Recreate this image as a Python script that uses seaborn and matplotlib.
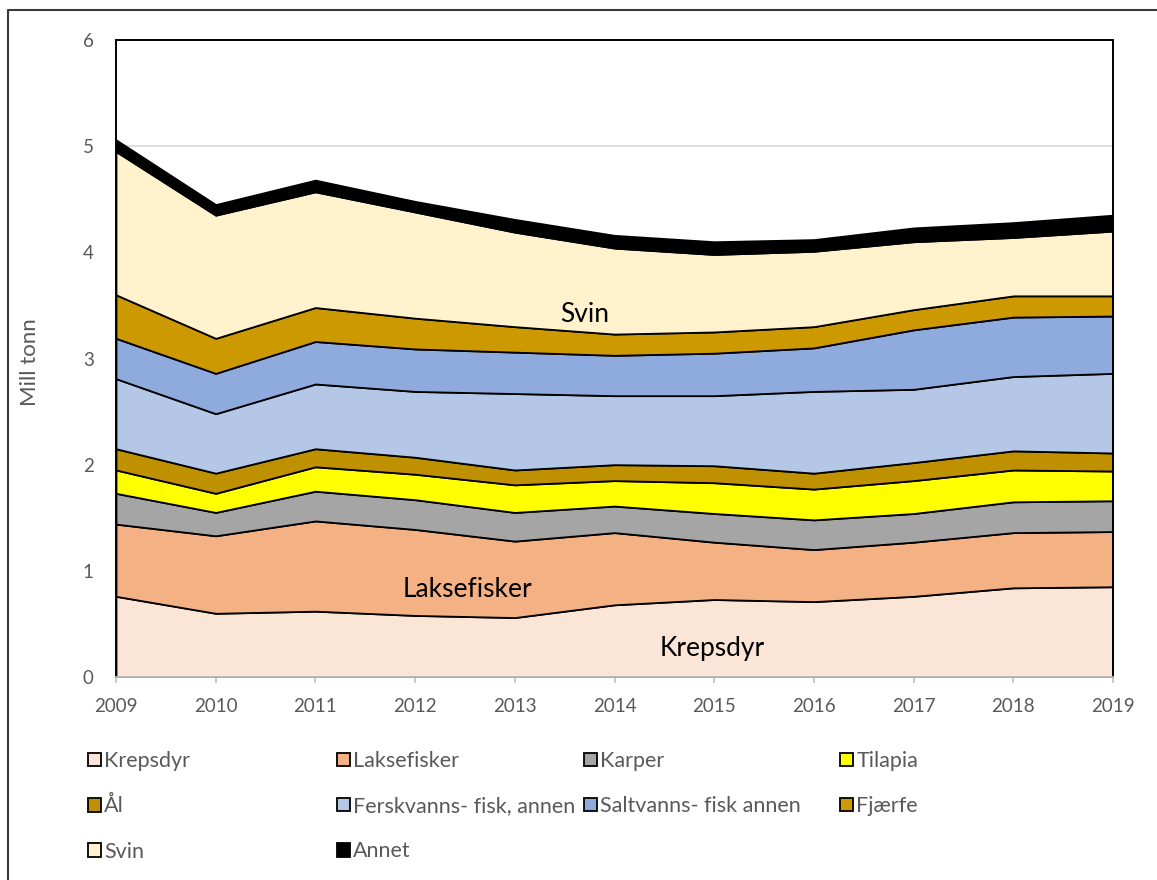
import numpy as np
import pandas as pd
import matplotlib
matplotlib.use("Agg")
import matplotlib.pyplot as plt
import seaborn as sns
from matplotlib.patches import Patch
from matplotlib.lines import Line2D

# ---- data (Mill tonn) ----
years = [2009, 2010, 2011, 2012, 2013, 2014, 2015, 2016, 2017, 2018, 2019]
krepsdyr = [0.76, 0.60, 0.62, 0.58, 0.56, 0.68, 0.73, 0.71, 0.76, 0.84, 0.85]
laksefisker = [0.68, 0.73, 0.85, 0.81, 0.72, 0.68, 0.54, 0.49, 0.51, 0.52, 0.52]
karper = [0.29, 0.22, 0.28, 0.28, 0.27, 0.25, 0.27, 0.28, 0.27, 0.29, 0.29]
tilapia = [0.22, 0.18, 0.23, 0.24, 0.26, 0.24, 0.29, 0.29, 0.31, 0.30, 0.28]
aal = [0.20, 0.19, 0.17, 0.16, 0.14, 0.15, 0.16, 0.15, 0.17, 0.18, 0.17]
ferskvann = [0.66, 0.56, 0.61, 0.62, 0.72, 0.65, 0.66, 0.77, 0.69, 0.70, 0.75]
saltvann = [0.38, 0.38, 0.40, 0.40, 0.39, 0.38, 0.40, 0.41, 0.56, 0.56, 0.54]
fjaerfe = [0.41, 0.33, 0.32, 0.29, 0.24, 0.20, 0.20, 0.20, 0.19, 0.20, 0.19]
svin = [1.35, 1.16, 1.09, 1.00, 0.89, 0.81, 0.73, 0.71, 0.64, 0.55, 0.61]
annet = [0.11, 0.10, 0.11, 0.10, 0.12, 0.12, 0.12, 0.11, 0.13, 0.14, 0.15]

series_names = ["Krepsdyr", "Laksefisker", "Karper", "Tilapia", "Ål",
                "Ferskvanns- fisk, annen", "Saltvanns- fisk annen", "Fjærfe",
                "Svin", "Annet"]
series_colors = ["#FBE5D6", "#F4B183", "#A5A5A5", "#FFFF00", "#BF9000",
                 "#B4C7E7", "#8FAADC", "#CC9900", "#FFF2CC", "#000000"]

df = pd.DataFrame(
    dict(zip(series_names, [krepsdyr, laksefisker, karper, tilapia, aal,
                            ferskvann, saltvann, fjaerfe, svin, annet])),
    index=years)

sns.set_theme(style="white")
plt.rcParams["font.family"] = ["Lato", "DejaVu Sans"]

fig = plt.figure(figsize=(11.57, 8.8), dpi=100)
ax = fig.add_axes([116 / 1157, 1 - 677 / 880, (1113 - 116) / 1157, (677 - 40) / 880])

ax.stackplot(df.index, df.T.values, colors=sns.color_palette(series_colors),
             edgecolor="black", linewidth=1.3)

ax.set_xlim(2009, 2019)
ax.set_ylim(0, 6)
ax.set_xticks(years)
ax.set_yticks(range(0, 7))
ax.grid(axis="y", color="#D9D9D9", linewidth=1.2)
ax.set_axisbelow(True)

for side in ["left", "top", "right"]:
    ax.spines[side].set_color("black")
    ax.spines[side].set_linewidth(1.4)
ax.spines["bottom"].set_color("#BFBFBF")
ax.spines["bottom"].set_linewidth(1.3)

ax.tick_params(axis="x", length=4, width=1.2, color="#BFBFBF", direction="out",
               labelsize=13.5, labelcolor="#595959", pad=11, bottom=True)
ax.tick_params(axis="y", length=0, labelsize=13.5, labelcolor="#595959", pad=16)

fig.text(30 / 1157, 1 - 362 / 880, "Mill tonn", rotation=90, ha="center", va="center",
         fontsize=16, color="#595959")

ax.text(2013.7, 3.41, "Svin", ha="center", va="center", fontsize=19, color="black")
ax.text(2012.52, 0.82, "Laksefisker", ha="center", va="center", fontsize=19, color="black")
ax.text(2014.98, 0.27, "Krepsdyr", ha="center", va="center", fontsize=19, color="black")

# legend: 4 columns laid out row-wise like the original
handles = [Patch(facecolor=c, edgecolor="black", linewidth=1.3) for c in series_colors]
cols = [[0, 4, 8], [1, 5, 9], [2, 6], [3, 7]]
col_x = [88, 337, 584, 840]
for idxs, x in zip(cols, col_x):
    fig.legend([handles[i] for i in idxs], [series_names[i] for i in idxs],
               loc="upper left", bbox_to_anchor=(x / 1157, 1 - 751 / 880),
               frameon=False, fontsize=15.5, labelcolor="#595959",
               handlelength=0.6, handleheight=0.6, handletextpad=0.15,
               labelspacing=1.17, borderpad=0, borderaxespad=0)

# outer chart frame (partially visible)
fig.add_artist(Line2D([8 / 1157, 1], [1 - 10 / 880, 1 - 10 / 880],
                      transform=fig.transFigure, color="#3A3A3A", linewidth=1.5))
fig.add_artist(Line2D([8 / 1157, 8 / 1157], [0, 1 - 10 / 880],
                      transform=fig.transFigure, color="#3A3A3A", linewidth=1.5))

fig.savefig("out.png", dpi=100)
